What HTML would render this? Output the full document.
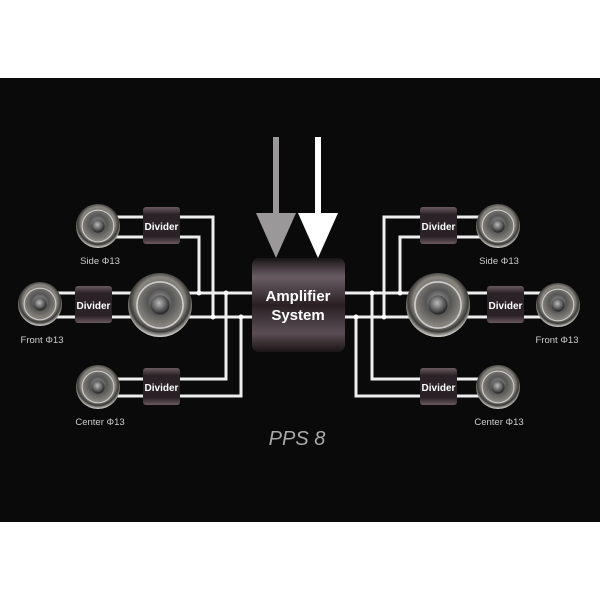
<!DOCTYPE html>
<html><head><style>
body{margin:0;background:#fff;}
svg{display:block;}
text{font-family:"Liberation Sans",sans-serif;}
</style></head><body>
<svg width="600" height="600" viewBox="0 0 600 600" xmlns="http://www.w3.org/2000/svg">
<defs>
<radialGradient id="spk" cx="50%" cy="45%" r="55%">
<stop offset="0" stop-color="#aaa"/><stop offset="0.35" stop-color="#555"/><stop offset="0.7" stop-color="#8a877f"/><stop offset="0.85" stop-color="#3a3a38"/><stop offset="1" stop-color="#e0ded8"/>
</radialGradient>
<radialGradient id="dome" cx="45%" cy="40%" r="60%"><stop offset="0" stop-color="#bbb"/><stop offset="1" stop-color="#222"/></radialGradient>
<linearGradient id="div" x1="0" y1="0" x2="0" y2="1">
<stop offset="0" stop-color="#6a5a60"/><stop offset="0.2" stop-color="#2a2226"/><stop offset="0.8" stop-color="#2a2226"/><stop offset="1" stop-color="#6a5a60"/>
</linearGradient>
<linearGradient id="amp" x1="0" y1="0" x2="0" y2="1">
<stop offset="0" stop-color="#1a1416"/><stop offset="0.2" stop-color="#6a5e64"/><stop offset="0.5" stop-color="#2a2024"/><stop offset="0.8" stop-color="#5a4e54"/><stop offset="1" stop-color="#1a1416"/>
</linearGradient>
<g id="s"><circle r="1" fill="url(#spk)"/><circle r="0.72" fill="none" stroke="#ccc" stroke-width="0.05"/><circle r="0.3" fill="url(#dome)"/></g>
</defs>
<rect x="0" y="78" width="600" height="444" fill="#0b0a0a"/>
<g stroke="#eee" stroke-width="3" fill="none">
<path d="M112 217H213V317"/><path d="M112 237H199V293"/>
<path d="M112 379H226V293"/><path d="M112 396H241V317"/>
<path d="M55 293H140M55 317H140"/>
<path d="M185 293H255M185 317H255"/>
<path d="M488 217H384V317"/><path d="M488 237H400V293"/>
<path d="M488 379H372V293"/><path d="M488 396H356V317"/>
<path d="M460 293H545M460 317H545"/>
<path d="M345 293H415M345 317H415"/>
</g>
<g fill="#fff">
<circle cx="199" cy="293" r="2.5"/><circle cx="213" cy="317" r="2.5"/><circle cx="226" cy="293" r="2.5"/><circle cx="241" cy="317" r="2.5"/>
<circle cx="400" cy="293" r="2.5"/><circle cx="384" cy="317" r="2.5"/><circle cx="372" cy="293" r="2.5"/><circle cx="356" cy="317" r="2.5"/>
</g>
<use href="#s" transform="translate(98,226) scale(22)"/>
<use href="#s" transform="translate(40,304) scale(22)"/>
<use href="#s" transform="translate(160,305) scale(32)"/>
<use href="#s" transform="translate(98,387) scale(22)"/>
<use href="#s" transform="translate(498,226) scale(22)"/>
<use href="#s" transform="translate(558,305) scale(22)"/>
<use href="#s" transform="translate(438,305) scale(32)"/>
<use href="#s" transform="translate(498,387) scale(22)"/>
<g font-size="10" font-weight="bold" fill="#fff" text-anchor="middle">
<rect x="143" y="207" width="37" height="37" rx="3" fill="url(#div)"/><text x="161.5" y="230">Divider</text>
<rect x="75" y="286" width="37" height="37" rx="3" fill="url(#div)"/><text x="93.5" y="309">Divider</text>
<rect x="143" y="368" width="37" height="37" rx="3" fill="url(#div)"/><text x="161.5" y="391">Divider</text>
<rect x="420" y="207" width="37" height="37" rx="3" fill="url(#div)"/><text x="438.5" y="230">Divider</text>
<rect x="487" y="286" width="37" height="37" rx="3" fill="url(#div)"/><text x="505.5" y="309">Divider</text>
<rect x="420" y="368" width="37" height="37" rx="3" fill="url(#div)"/><text x="438.5" y="391">Divider</text>
</g>
<g font-size="9.5" fill="#ccc" text-anchor="middle">
<text x="100" y="264">Side Φ13</text><text x="42" y="343">Front Φ13</text><text x="100" y="425">Center Φ13</text>
<text x="499" y="264">Side Φ13</text><text x="557" y="343">Front Φ13</text><text x="499" y="425">Center Φ13</text>
</g>
<rect x="252" y="258" width="93" height="94" rx="7" fill="url(#amp)"/>
<text x="298" y="301" font-size="15" font-weight="bold" fill="#fff" text-anchor="middle">Amplifier</text>
<text x="298" y="320" font-size="15" font-weight="bold" fill="#fff" text-anchor="middle">System</text>
<rect x="273" y="137" width="6" height="80" fill="#9a9898"/>
<polygon points="256,213 296,213 276,258" fill="#9a9898"/>
<rect x="315" y="137" width="6" height="80" fill="#fff"/>
<polygon points="298,213 338,213 318,258" fill="#fff"/>
<text x="297" y="445" font-size="20" font-style="italic" fill="#aaa" text-anchor="middle">PPS 8</text>
</svg>
</body></html>
